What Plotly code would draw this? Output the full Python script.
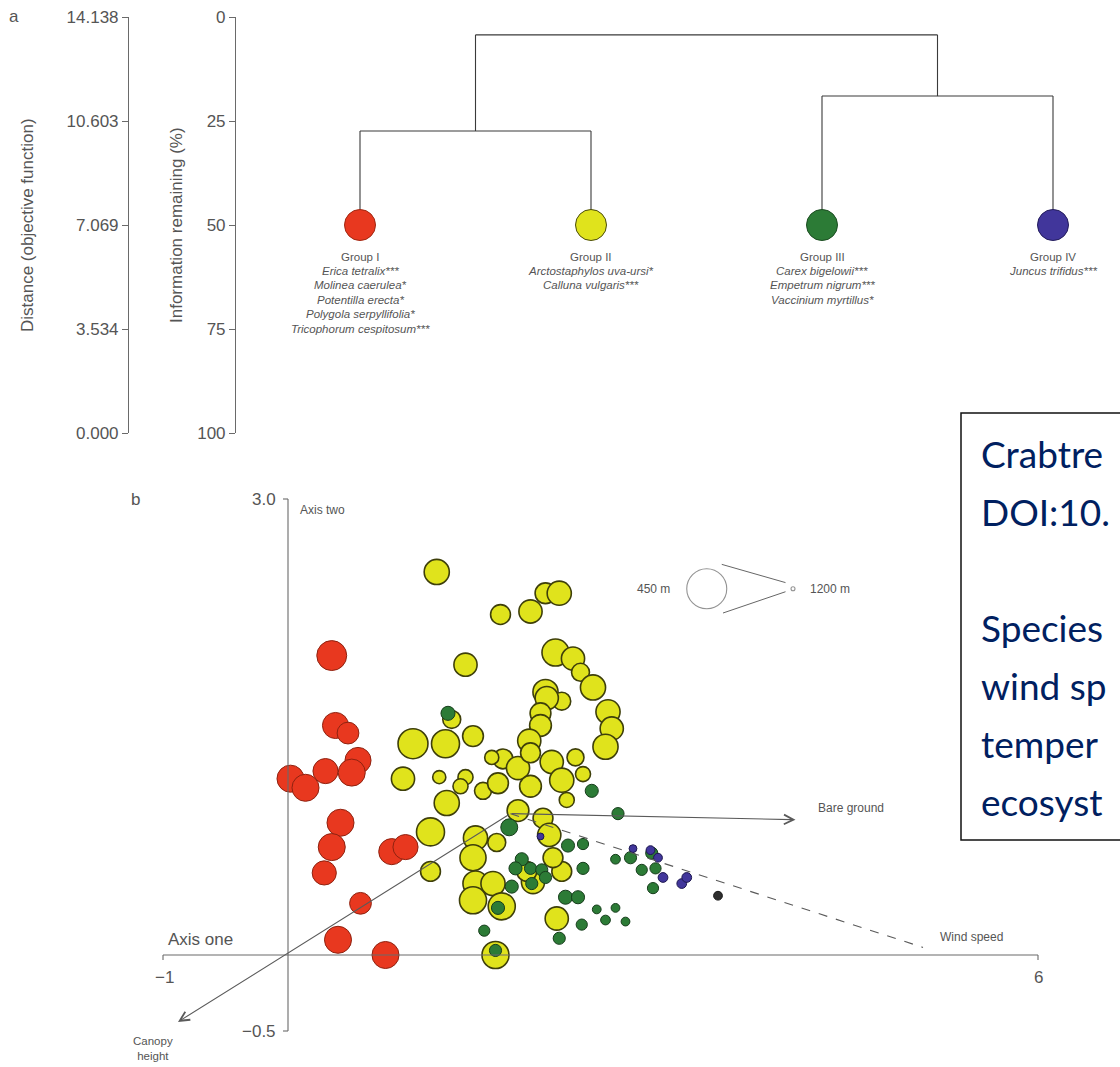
import plotly.graph_objects as go

W, H = 1120, 1067
FONT = "Liberation Sans, Arial, sans-serif"
GREY = "#555555"

# ---------------- panel a: cluster dendrogram ----------------
group_names = ["Group I", "Group II", "Group III", "Group IV"]
group_species = [
    ["Erica tetralix***", "Molinea caerulea*", "Potentilla erecta*",
     "Polygola serpyllifolia*", "Tricophorum cespitosum***"],
    ["Arctostaphylos uva-ursi*", "Calluna vulgaris***"],
    ["Carex bigelowii***", "Empetrum nigrum***", "Vaccinium myrtillus*"],
    ["Juncus trifidus***"],
]
group_colors = ["#e8381f", "#e0e31c", "#2c7b36", "#41369b"]
group_edges = ["#a02812", "#4a4b0c", "#1d4d22", "#241d5c"]

leaf_pos = [1, 2, 3, 4]
leaf_level = 50.0          # information remaining (%) where the four groups are cut
merge_I_II = 27.4
merge_III_IV = 19.0
merge_root = 4.3

info_ticks = [0, 25, 50, 75, 100]
distance_ticks = [14.138, 10.603, 7.069, 3.534, 0.000]

# ---------------- panel b: ordination of plots ----------------
# axis one, axis two scores and altitude (m) of each plot, by group
red_x = [0.35, 0.38, 0.48, 0.56, 0.51, 0.30, 0.02, 0.14, 0.42, 0.35, 0.83, 0.94, 0.29, 0.58, 0.40, 0.78]
red_y = [1.97, 1.51, 1.46, 1.28, 1.20, 1.21, 1.16, 1.10, 0.87, 0.71, 0.68, 0.71, 0.54, 0.34, 0.10, 0.00]
red_alt = [660, 740, 830, 740, 720, 760, 720, 720, 720, 720, 740, 760, 780, 830, 720, 720]

yel_x = [1.19, 1.70, 1.94, 2.06, 2.17, 1.42, 2.14, 2.28, 2.34, 2.44, 2.06, 2.19, 2.07, 2.56, 2.59,
         2.54, 2.02, 2.02, 1.93, 1.00, 1.26, 1.48, 1.31, 0.92, 1.21, 1.42, 1.72, 1.84, 2.11, 2.30,
         2.36, 2.19, 1.63, 1.38, 1.27, 1.56, 1.68, 1.94, 1.14, 1.84, 1.50, 1.48, 1.67, 2.04, 2.09,
         2.23, 2.19, 1.50, 1.64, 1.48, 1.71, 1.96, 1.91, 2.15, 1.14, 1.66, 1.94, 2.12]
yel_y = [2.52, 2.24, 2.26, 2.38, 2.38, 1.91, 1.99, 1.95, 1.86, 1.76, 1.73, 1.67, 1.69, 1.60, 1.49,
         1.37, 1.59, 1.51, 1.41, 1.39, 1.39, 1.44, 1.55, 1.16, 1.17, 1.17, 1.29, 1.23, 1.27, 1.30,
         1.19, 1.15, 1.30, 1.11, 1.00, 1.08, 1.13, 1.11, 0.81, 0.95, 0.77, 0.64, 0.74, 0.90, 0.79,
         1.02, 0.55, 0.47, 0.47, 0.36, 0.32, 0.48, 0.55, 0.24, 0.55, 0.00, 1.33, 0.64]
yel_alt = [760, 870, 800, 850, 780, 800, 720, 800, 910, 760, 760, 910, 800, 780, 800,
           760, 850, 830, 800, 660, 700, 850, 910, 800, 1010, 970, 870, 800, 800, 930,
           970, 780, 990, 970, 760, 930, 850, 830, 700, 830, 780, 740, 910, 870, 800,
           970, 870, 760, 780, 720, 720, 800, 870, 800, 870, 720, 870, 870]

grn_x = [2.43, 2.64, 1.77, 2.24, 2.36, 2.36, 2.62, 2.74, 2.83, 2.91, 2.94, 2.92, 1.87, 1.82, 1.94,
         2.03, 1.79, 1.95, 2.06, 1.68, 2.22, 2.32, 2.62, 2.47, 1.57, 2.17, 2.35, 2.54, 2.70, 1.66, 1.28]
grn_y = [1.08, 0.93, 0.84, 0.72, 0.73, 0.57, 0.63, 0.64, 0.56, 0.67, 0.57, 0.44, 0.63, 0.57, 0.57,
         0.56, 0.45, 0.47, 0.51, 0.31, 0.38, 0.38, 0.31, 0.30, 0.16, 0.11, 0.20, 0.23, 0.22, 0.03, 1.59]
grn_alt = [1010, 1030, 930, 1010, 1050, 1030, 1080, 1030, 1050, 1030, 1050, 1050, 1010, 1010, 1030,
           1030, 1010, 1030, 1030, 1010, 990, 1010, 1100, 1100, 1050, 1030, 1050, 1080, 1100, 1030, 990]

pur_x = [2.02, 2.96, 3.00, 3.15, 3.19, 2.76, 2.90]
pur_y = [0.78, 0.64, 0.51, 0.47, 0.51, 0.70, 0.69]
pur_alt = [1140, 1100, 1080, 1080, 1080, 1120, 1100]

other_x = [3.44]
other_y = [0.39]
other_alt = [1100]

# environmental vectors (start point and tip in ordination units)
vec_origin = (1.78, 0.93)
vec_names = ["Canopy height", "Bare ground", "Wind speed"]
vec_tips = [(-0.88, -0.44), (4.06, 0.89), (5.08, 0.05)]

legend_alt = [450, 1200]

box_lines = ["Crabtre", "DOI:10.", "", "Species", "wind sp", "temper", "ecosyst"]


def alt_to_size(a):
    """Marker diameter (px): low plots large, high plots small."""
    return 4 + (1200 - a) * 36 / 750


# pixel scale of panel b (px per unit on each axis) and placement
PX_X, PX_Y = 125.0, 152.0
ORIG_PX, ORIG_PY = 288.0, 955.0
PANEL_B_TOP = 460.0

fig = go.Figure()

# ---- dendrogram branches ----
bx, by = [], []
def seg(x0, y0, x1, y1):
    bx.extend([x0, x1, None]); by.extend([y0, y1, None])

l1, l2, l3, l4 = leaf_pos
seg(l1, leaf_level, l1, merge_I_II); seg(l2, leaf_level, l2, merge_I_II); seg(l1, merge_I_II, l2, merge_I_II)
seg(l3, leaf_level, l3, merge_III_IV); seg(l4, leaf_level, l4, merge_III_IV); seg(l3, merge_III_IV, l4, merge_III_IV)
m12, m34 = (l1 + l2) / 2, (l3 + l4) / 2
seg(m12, merge_I_II, m12, merge_root); seg(m34, merge_III_IV, m34, merge_root); seg(m12, merge_root, m34, merge_root)
fig.add_trace(go.Scatter(x=bx, y=by, mode="lines", line=dict(color="#3a3a3a", width=1.1),
                         xaxis="x", yaxis="y", hoverinfo="skip", showlegend=False))
fig.add_trace(go.Scatter(x=leaf_pos, y=[leaf_level] * 4, mode="markers",
                         marker=dict(size=31, color=group_colors, line=dict(color=group_edges, width=1)),
                         xaxis="x", yaxis="y", hoverinfo="skip", showlegend=False))
# carrier trace so the distance scale is drawn
fig.add_trace(go.Scatter(x=[leaf_pos[0]], y=[distance_ticks[0]], mode="markers",
                         marker=dict(size=1, opacity=0), xaxis="x", yaxis="y2",
                         hoverinfo="skip", showlegend=False))

# ---- ordination points ----
def add_group(xs, ys, alts, color, edge, ew):
    fig.add_trace(go.Scatter(x=xs, y=ys, mode="markers", xaxis="x2", yaxis="y3",
                             marker=dict(size=[alt_to_size(a) for a in alts], color=color,
                                         line=dict(color=edge, width=ew), opacity=1),
                             hoverinfo="skip", showlegend=False))

add_group(yel_x, yel_y, yel_alt, group_colors[1], "#3e3f0a", 1.6)
add_group(red_x, red_y, red_alt, group_colors[0], "#8e2210", 1.0)
add_group(grn_x, grn_y, grn_alt, group_colors[2], "#173d1c", 1.0)
add_group(pur_x, pur_y, pur_alt, group_colors[3], "#1d1750", 1.0)
add_group(other_x, other_y, other_alt, "#2e2e2e", "#1a1a1a", 1.0)

# altitude key
key_x, key_y = [3.35, 4.04], [2.41, 2.41]
fig.add_trace(go.Scatter(x=key_x, y=key_y, mode="markers", xaxis="x2", yaxis="y3",
                         marker=dict(size=[alt_to_size(a) for a in legend_alt], color="white",
                                     line=dict(color="#666", width=1.1)),
                         hoverinfo="skip", showlegend=False))

# dashed wind-speed vector
wx, wy = vec_tips[2]
fig.add_trace(go.Scatter(x=[vec_origin[0], wx], y=[vec_origin[1], wy], mode="lines",
                         xaxis="x2", yaxis="y3", line=dict(color="#5a5a5a", width=1.1, dash="dash"),
                         hoverinfo="skip", showlegend=False))

shapes = []
annotations = []
LINE = dict(color="#6a6a6a", width=1.1)

# axis one / axis two frame of panel b
shapes.append(dict(type="line", xref="x2", yref="y3", x0=-1, x1=6, y0=0, y1=0, line=LINE))
shapes.append(dict(type="line", xref="x2", yref="y3", x0=0, x1=0, y0=-0.5, y1=3.0, line=LINE))
for yv in (3.0, -0.5):
    shapes.append(dict(type="line", xref="x2", yref="y3", xsizemode="pixel", xanchor=0,
                       x0=-5, x1=0, y0=yv, y1=yv, line=LINE))
for xv in (-1, 6):
    shapes.append(dict(type="line", xref="x2", yref="y3", ysizemode="pixel", yanchor=0,
                       x0=xv, x1=xv, y0=0, y1=-5, line=LINE))

# key connector lines
shapes.append(dict(type="line", xref="x2", yref="y3", x0=3.47, y0=2.57, x1=3.98, y1=2.45,
                   line=dict(color="#666", width=1)))
shapes.append(dict(type="line", xref="x2", yref="y3", x0=3.48, y0=2.25, x1=3.98, y1=2.39,
                   line=dict(color="#666", width=1)))

# solid vectors with open arrowheads
for (tx, ty) in vec_tips[:2]:
    annotations.append(dict(xref="x2", yref="y3", axref="x2", ayref="y3", x=tx, y=ty,
                            ax=vec_origin[0], ay=vec_origin[1], text="", showarrow=True,
                            arrowhead=5, arrowsize=1.7, arrowwidth=1.1, arrowcolor="#5a5a5a"))
# arrowhead for the dashed vector
dxp = (wx - vec_origin[0]) * PX_X
dyp = -(wy - vec_origin[1]) * PX_Y
nrm = (dxp ** 2 + dyp ** 2) ** 0.5
annotations.append(dict(xref="x2", yref="y3", x=wx, y=wy, ax=-dxp / nrm * 3, ay=-dyp / nrm * 3,
                        text="", showarrow=True, arrowhead=5, arrowsize=1.7, arrowwidth=1.1,
                        arrowcolor="#5a5a5a"))


def txt(x, y, s, size, xanchor="center", yanchor="middle", xref="paper", yref="paper",
        color=GREY, angle=0, family=FONT):
    annotations.append(dict(x=x, y=y, xref=xref, yref=yref, text=s, showarrow=False,
                            xanchor=xanchor, yanchor=yanchor, textangle=angle,
                            font=dict(family=family, size=size, color=color)))


# vector labels
txt(4.22, 0.97, vec_names[1], 12, "left", xref="x2", yref="y3")
txt(5.2, 0.12, vec_names[2], 12, "left", xref="x2", yref="y3")
txt(-1.26, -0.51, vec_names[0].replace(" ", "<br>"), 11.5, "left", "top", xref="x2", yref="y3")

# key labels
txt(3.07, 2.41, f"{legend_alt[0]} m", 12, "right", xref="x2", yref="y3")
txt(4.16, 2.41, f"{legend_alt[1]} m", 12, "left", xref="x2", yref="y3")

# panel b axis labels
txt(-0.98, 0.1, "Axis one", 17, "left", xref="x2", yref="y3")
txt(0.08, 2.93, "Axis two", 12, "left", xref="x2", yref="y3")
txt(-0.99, -0.15, "\u22121", 17, xref="x2", yref="y3")
txt(6.0, -0.15, "6", 17, xref="x2", yref="y3")
txt(-0.08, 3.0, "3.0", 17, "right", xref="x2", yref="y3")
txt(-0.08, -0.5, "\u22120.5", 17, "right", xref="x2", yref="y3")

# panel letters
txt(14 / W, 1 - 17 / H, "a", 17)
txt(135 / W, 1 - 499 / H, "b", 17)

# panel a axis titles
txt(28 / W, 1 - 225 / H, "Distance (objective function)", 17, angle=-90)
txt(177 / W, 1 - 225 / H, "Information remaining (%)", 17, angle=-90)

# group labels and indicator species
PX_PER_PCT = (433 - 17) / 100.0
for pos, name, spp in zip(leaf_pos, group_names, group_species):
    txt(pos, leaf_level + 32 / PX_PER_PCT, name, 11.5, xref="x", yref="y")
    for k, sp in enumerate(spp):
        txt(pos, leaf_level + (46 + 14.4 * k) / PX_PER_PCT, f"<i>{sp}</i>", 11.5, xref="x", yref="y")

# citation box
shapes.append(dict(type="rect", xref="paper", yref="paper", x0=961 / W, x1=1.05,
                   y0=1 - 840 / H, y1=1 - 413 / H, line=dict(color="#111", width=1.5),
                   fillcolor="white", layer="below"))
for k, s in enumerate(box_lines):
    if s:
        txt(979 / W, 1 - (453 + 58 * k) / H, s, 37, "left", color="#002060",
            family="Lato, Carlito, Calibri, sans-serif")

axis_common = dict(showgrid=False, zeroline=False, showline=True, linecolor="#6a6a6a", linewidth=1.1,
                   ticks="outside", ticklen=6, tickcolor="#6a6a6a", tickwidth=1.1,
                   tickfont=dict(family=FONT, size=17, color=GREY), automargin=False)

top_dom = [1 - 433 / H, 1 - 17 / H]
bot_dom = [0, 1 - PANEL_B_TOP / H]

fig.update_layout(
    width=W, height=H, margin=dict(l=0, r=0, t=0, b=0),
    paper_bgcolor="white", plot_bgcolor="rgba(0,0,0,0)", showlegend=False,
    xaxis=dict(domain=[0, 1], range=[1 - 360 / 231, 1 + (W - 360) / 231], visible=False,
               anchor="y", fixedrange=True),
    yaxis=dict(domain=top_dom, range=[100, 0], anchor="free", position=235 / W, side="left",
               tickvals=info_ticks, ticktext=[str(v) for v in info_ticks], **axis_common),
    yaxis2=dict(overlaying="y", range=[0, 14.138], anchor="free", position=128 / W, side="left",
                tickvals=distance_ticks, ticktext=[f"{v:.3f}" for v in distance_ticks], **axis_common),
    xaxis2=dict(domain=[0, 1], range=[-ORIG_PX / PX_X, (W - ORIG_PX) / PX_X], visible=False,
                anchor="y3"),
    yaxis3=dict(domain=bot_dom, range=[(ORIG_PY - H) / PX_Y, (ORIG_PY - PANEL_B_TOP) / PX_Y],
                visible=False, anchor="x2"),
    shapes=shapes, annotations=annotations,
)

fig.write_html("out.html")
